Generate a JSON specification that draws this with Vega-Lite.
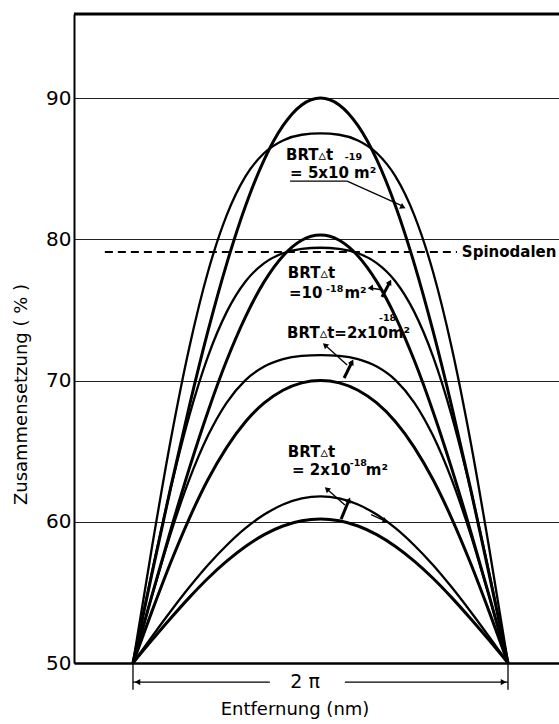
{
  "$schema": "https://vega.github.io/schema/vega-lite/v6.json",
  "autosize": {"type": "none"},
  "padding": {"left": 74, "top": 14, "right": 0, "bottom": 61},
  "width": 485,
  "height": 649,
  "background": "white",
  "config": {"view": {"stroke": null}},
  "datasets": {
    "curves": [
      {"c":"A1","x":0,"y":50},{"c":"A1","x":5,"y":56.26},{"c":"A1","x":10,"y":62.36},{"c":"A1","x":15,"y":68.16},{"c":"A1","x":20,"y":73.51},{"c":"A1","x":25,"y":78.28},{"c":"A1","x":30,"y":82.36},{"c":"A1","x":35,"y":85.64},{"c":"A1","x":40,"y":88.04},{"c":"A1","x":45,"y":89.51},{"c":"A1","x":50,"y":90},{"c":"A1","x":55,"y":89.51},{"c":"A1","x":60,"y":88.04},{"c":"A1","x":65,"y":85.64},{"c":"A1","x":70,"y":82.36},{"c":"A1","x":75,"y":78.28},{"c":"A1","x":80,"y":73.51},{"c":"A1","x":85,"y":68.16},{"c":"A1","x":90,"y":62.36},{"c":"A1","x":95,"y":56.26},{"c":"A1","x":100,"y":50},
      {"c":"B1","x":0,"y":50},{"c":"B1","x":5,"y":58.11},{"c":"B1","x":10,"y":65.70},{"c":"B1","x":15,"y":72.32},{"c":"B1","x":20,"y":77.70},{"c":"B1","x":25,"y":81.71},{"c":"B1","x":30,"y":84.45},{"c":"B1","x":35,"y":86.11},{"c":"B1","x":40,"y":87.00},{"c":"B1","x":45,"y":87.40},{"c":"B1","x":50,"y":87.5},{"c":"B1","x":55,"y":87.40},{"c":"B1","x":60,"y":87.00},{"c":"B1","x":65,"y":86.11},{"c":"B1","x":70,"y":84.45},{"c":"B1","x":75,"y":81.71},{"c":"B1","x":80,"y":77.70},{"c":"B1","x":85,"y":72.32},{"c":"B1","x":90,"y":65.70},{"c":"B1","x":95,"y":58.11},{"c":"B1","x":100,"y":50},
      {"c":"A2","x":0,"y":50},{"c":"A2","x":5,"y":54.74},{"c":"A2","x":10,"y":59.36},{"c":"A2","x":15,"y":63.76},{"c":"A2","x":20,"y":67.81},{"c":"A2","x":25,"y":71.43},{"c":"A2","x":30,"y":74.51},{"c":"A2","x":35,"y":77.00},{"c":"A2","x":40,"y":78.82},{"c":"A2","x":45,"y":79.93},{"c":"A2","x":50,"y":80.3},{"c":"A2","x":55,"y":79.93},{"c":"A2","x":60,"y":78.82},{"c":"A2","x":65,"y":77.00},{"c":"A2","x":70,"y":74.51},{"c":"A2","x":75,"y":71.43},{"c":"A2","x":80,"y":67.81},{"c":"A2","x":85,"y":63.76},{"c":"A2","x":90,"y":59.36},{"c":"A2","x":95,"y":54.74},{"c":"A2","x":100,"y":50},
      {"c":"B2","x":0,"y":50},{"c":"B2","x":5,"y":56.36},{"c":"B2","x":10,"y":62.31},{"c":"B2","x":15,"y":67.50},{"c":"B2","x":20,"y":71.71},{"c":"B2","x":25,"y":74.86},{"c":"B2","x":30,"y":77.01},{"c":"B2","x":35,"y":78.31},{"c":"B2","x":40,"y":79.01},{"c":"B2","x":45,"y":79.32},{"c":"B2","x":50,"y":79.4},{"c":"B2","x":55,"y":79.32},{"c":"B2","x":60,"y":79.01},{"c":"B2","x":65,"y":78.31},{"c":"B2","x":70,"y":77.01},{"c":"B2","x":75,"y":74.86},{"c":"B2","x":80,"y":71.71},{"c":"B2","x":85,"y":67.50},{"c":"B2","x":90,"y":62.31},{"c":"B2","x":95,"y":56.36},{"c":"B2","x":100,"y":50},
      {"c":"A3","x":0,"y":50},{"c":"A3","x":5,"y":53.62},{"c":"A3","x":10,"y":57.08},{"c":"A3","x":15,"y":60.23},{"c":"A3","x":20,"y":62.99},{"c":"A3","x":25,"y":65.27},{"c":"A3","x":30,"y":67.08},{"c":"A3","x":35,"y":68.41},{"c":"A3","x":40,"y":69.31},{"c":"A3","x":45,"y":69.83},{"c":"A3","x":50,"y":70},{"c":"A3","x":55,"y":69.83},{"c":"A3","x":60,"y":69.31},{"c":"A3","x":65,"y":68.41},{"c":"A3","x":70,"y":67.08},{"c":"A3","x":75,"y":65.27},{"c":"A3","x":80,"y":62.99},{"c":"A3","x":85,"y":60.23},{"c":"A3","x":90,"y":57.08},{"c":"A3","x":95,"y":53.62},{"c":"A3","x":100,"y":50},
      {"c":"B3","x":0,"y":50},{"c":"B3","x":5,"y":54.71},{"c":"B3","x":10,"y":59.13},{"c":"B3","x":15,"y":62.98},{"c":"B3","x":20,"y":66.10},{"c":"B3","x":25,"y":68.44},{"c":"B3","x":30,"y":70.03},{"c":"B3","x":35,"y":70.99},{"c":"B3","x":40,"y":71.51},{"c":"B3","x":45,"y":71.74},{"c":"B3","x":50,"y":71.8},{"c":"B3","x":55,"y":71.74},{"c":"B3","x":60,"y":71.51},{"c":"B3","x":65,"y":70.99},{"c":"B3","x":70,"y":70.03},{"c":"B3","x":75,"y":68.44},{"c":"B3","x":80,"y":66.10},{"c":"B3","x":85,"y":62.98},{"c":"B3","x":90,"y":59.13},{"c":"B3","x":95,"y":54.71},{"c":"B3","x":100,"y":50},
      {"c":"A4","x":0,"y":50},{"c":"A4","x":5,"y":51.60},{"c":"A4","x":10,"y":53.15},{"c":"A4","x":15,"y":54.63},{"c":"A4","x":20,"y":56.00},{"c":"A4","x":25,"y":57.21},{"c":"A4","x":30,"y":58.25},{"c":"A4","x":35,"y":59.09},{"c":"A4","x":40,"y":59.70},{"c":"A4","x":45,"y":60.07},{"c":"A4","x":50,"y":60.2},{"c":"A4","x":55,"y":60.07},{"c":"A4","x":60,"y":59.70},{"c":"A4","x":65,"y":59.09},{"c":"A4","x":70,"y":58.25},{"c":"A4","x":75,"y":57.21},{"c":"A4","x":80,"y":56.00},{"c":"A4","x":85,"y":54.63},{"c":"A4","x":90,"y":53.15},{"c":"A4","x":95,"y":51.60},{"c":"A4","x":100,"y":50},
      {"c":"B4","x":0,"y":50},{"c":"B4","x":5,"y":51.85},{"c":"B4","x":10,"y":53.65},{"c":"B4","x":15,"y":55.36},{"c":"B4","x":20,"y":56.94},{"c":"B4","x":25,"y":58.34},{"c":"B4","x":30,"y":59.55},{"c":"B4","x":35,"y":60.51},{"c":"B4","x":40,"y":61.22},{"c":"B4","x":45,"y":61.65},{"c":"B4","x":50,"y":61.8},{"c":"B4","x":55,"y":61.65},{"c":"B4","x":60,"y":61.22},{"c":"B4","x":65,"y":60.51},{"c":"B4","x":70,"y":59.55},{"c":"B4","x":75,"y":58.34},{"c":"B4","x":80,"y":56.94},{"c":"B4","x":85,"y":55.36},{"c":"B4","x":90,"y":53.65},{"c":"B4","x":95,"y":51.85},{"c":"B4","x":100,"y":50}
    ],
    "frame": [{"x": -15.73, "y": 95.95, "x2": 113.6, "y2": 95.95}],
    "spin": [{"x": -7.5, "y": 79.1, "x2": 86.4, "y2": 79.1}],
    "thin": [
      {"x": 0, "y": 48.65, "x2": 36.5, "y2": 48.65},
      {"x": 56.5, "y": 48.65, "x2": 100, "y2": 48.65},
      {"x": 0, "y": 50, "x2": 0, "y2": 48.1},
      {"x": 100, "y": 50, "x2": 100, "y2": 48.1},
      {"x": 41.9, "y": 84.12, "x2": 57.1, "y2": 84.12},
      {"x": 57.1, "y": 84.12, "x2": 71.5, "y2": 82.4},
      {"x": 63.3, "y": 76.55, "x2": 66.7, "y2": 76.41},
      {"x": 51.2, "y": 72.51, "x2": 57.1, "y2": 71.1},
      {"x": 51.7, "y": 62.32, "x2": 56.5, "y2": 61.19},
      {"x": 63.5, "y": 60.5, "x2": 67.3, "y2": 60.05}
    ],
    "thick": [
      {"x": 66.4, "y": 75.91, "x2": 68.5, "y2": 76.97},
      {"x": 56.3, "y": 70.18, "x2": 58.4, "y2": 71.31},
      {"x": 55.5, "y": 60.19, "x2": 57.6, "y2": 61.54}
    ],
    "heads": [
      {"x": 1.2, "y": 48.65, "a": 270},
      {"x": 98.8, "y": 48.65, "a": 90},
      {"x": 72.0, "y": 82.28, "a": 117},
      {"x": 63.3, "y": 76.55, "a": 265},
      {"x": 68.5, "y": 76.97, "a": 28},
      {"x": 51.2, "y": 72.51, "a": 312},
      {"x": 58.4, "y": 71.31, "a": 27},
      {"x": 51.7, "y": 62.32, "a": 312},
      {"x": 57.6, "y": 61.54, "a": 23},
      {"x": 67.3, "y": 60.05, "a": 112}
    ],
    "notes": [
      {"x": 40.8, "y": 85.96, "t": "BRT▵t"},
      {"x": 41.9, "y": 84.69, "t": "= 5x10 m²"},
      {"x": 41.3, "y": 77.61, "t": "BRT▵t"},
      {"x": 41.6, "y": 76.19, "t": "=10"},
      {"x": 56.4, "y": 76.19, "t": "m²"},
      {"x": 41.1, "y": 73.36, "t": "BRT▵t=2x10m²"},
      {"x": 41.3, "y": 64.94, "t": "BRT▵t"},
      {"x": 42.4, "y": 63.66, "t": "= 2x10"},
      {"x": 62.1, "y": 63.66, "t": "m²"},
      {"x": 87.7, "y": 79.1, "t": "Spinodalen"}
    ],
    "exps": [
      {"x": 56.5, "y": 85.82, "t": "-19"},
      {"x": 51.5, "y": 76.49, "t": "-18"},
      {"x": 65.6, "y": 74.42, "t": "-18"},
      {"x": 57.8, "y": 64.16, "t": "-18"}
    ],
    "labels": [
      {"x": 45.9, "y": 48.65, "t": "2 π"}
    ],
    "xtitle": [
      {"x": 43.2, "y": 46.7, "t": "Entfernung  (nm)"}
    ]
  },
  "encoding": {
    "x": {
      "field": "x", "type": "quantitative",
      "scale": {"domain": [-15.73, 113.6], "nice": false, "zero": false},
      "axis": {"title": null, "labels": false, "ticks": false, "grid": false, "domainWidth": 2.5, "domainColor": "black"}
    },
    "y": {
      "field": "y", "type": "quantitative",
      "scale": {"domain": [50, 95.95], "nice": false, "zero": false},
      "axis": {
        "values": [50, 60, 70, 80, 90], "ticks": false,
        "labelFont": "DejaVu Sans", "labelFontSize": 20, "labelColor": "black", "labelPadding": 3,
        "domainWidth": 2, "domainColor": "black",
        "grid": true, "gridColor": "#222", "gridWidth": 1,
        "title": "Zusammensetzung ( % )", "titleFont": "DejaVu Sans", "titleFontSize": 18,
        "titleFontWeight": "normal", "titleColor": "black",
        "titleX": -53, "titleY": 380, "titleAngle": -90, "titleAlign": "center", "titleBaseline": "middle"
      }
    }
  },
  "layer": [
    {
      "data": {"name": "curves"},
      "transform": [{"filter": "indexof(['A1','A2','A3','A4'], datum.c) >= 0"}],
      "mark": {"type": "line", "interpolate": "monotone", "color": "black", "strokeWidth": 3},
      "encoding": {"detail": {"field": "c"}}
    },
    {
      "data": {"name": "curves"},
      "transform": [{"filter": "indexof(['B1','B2','B3','B4'], datum.c) >= 0"}],
      "mark": {"type": "line", "interpolate": "monotone", "color": "black", "strokeWidth": 2.3},
      "encoding": {"detail": {"field": "c"}}
    },
    {
      "data": {"name": "frame"},
      "mark": {"type": "rule", "color": "black", "strokeWidth": 3},
      "encoding": {"x2": {"field": "x2"}, "y2": {"field": "y2"}}
    },
    {
      "data": {"name": "spin"},
      "mark": {"type": "rule", "color": "black", "strokeWidth": 2, "strokeDash": [8, 5]},
      "encoding": {"x2": {"field": "x2"}, "y2": {"field": "y2"}}
    },
    {
      "data": {"name": "thin"},
      "mark": {"type": "rule", "color": "black", "strokeWidth": 1.3},
      "encoding": {"x2": {"field": "x2"}, "y2": {"field": "y2"}}
    },
    {
      "data": {"name": "thick"},
      "mark": {"type": "rule", "color": "black", "strokeWidth": 3},
      "encoding": {"x2": {"field": "x2"}, "y2": {"field": "y2"}}
    },
    {
      "data": {"name": "heads"},
      "mark": {"type": "point", "shape": "triangle-up", "filled": true, "color": "black", "size": 40, "opacity": 1},
      "encoding": {"angle": {"field": "a", "type": "quantitative", "scale": null}}
    },
    {
      "data": {"name": "notes"},
      "mark": {"type": "text", "align": "left", "baseline": "middle", "font": "DejaVu Sans", "fontWeight": "bold", "fontSize": 15, "color": "black"},
      "encoding": {"text": {"field": "t"}}
    },
    {
      "data": {"name": "exps"},
      "mark": {"type": "text", "align": "left", "baseline": "middle", "font": "DejaVu Sans", "fontWeight": "bold", "fontSize": 9.5, "color": "black"},
      "encoding": {"text": {"field": "t"}}
    },
    {
      "data": {"name": "labels"},
      "mark": {"type": "text", "align": "center", "baseline": "middle", "font": "DejaVu Sans", "fontSize": 19, "color": "black"},
      "encoding": {"text": {"field": "t"}}
    },
    {
      "data": {"name": "xtitle"},
      "mark": {"type": "text", "align": "center", "baseline": "middle", "font": "DejaVu Sans", "fontSize": 18, "color": "black"},
      "encoding": {"text": {"field": "t"}}
    }
  ]
}
